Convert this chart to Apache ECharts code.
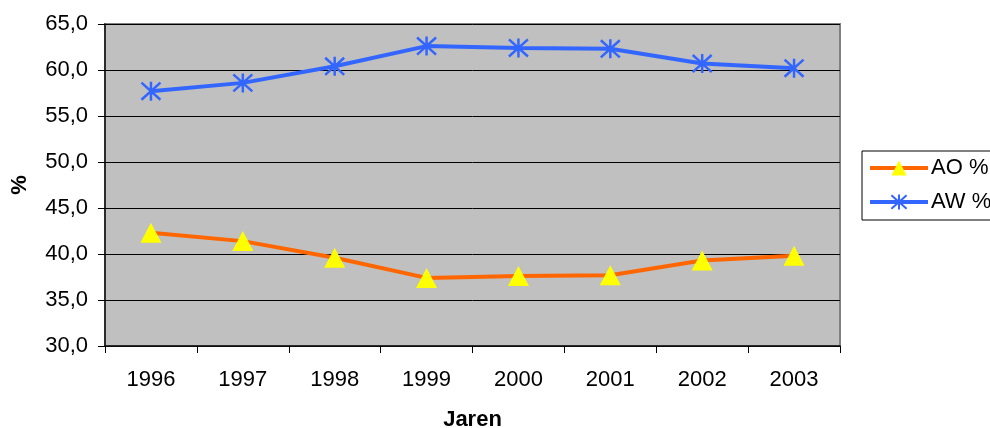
<!DOCTYPE html>
<html>
<head>
<meta charset="utf-8">
<script src="https://cdn.jsdelivr.net/npm/echarts@6/dist/echarts.min.js"></script>
<style>
  html, body { margin: 0; padding: 0; background: #ffffff; }
  #chart { width: 990px; height: 428px; }
</style>
</head>
<body>
<div id="chart"></div>
<script>
// Share of AO and AW per year (%)
const years = ['1996', '1997', '1998', '1999', '2000', '2001', '2002', '2003'];
const aoPct = [42.3, 41.4, 39.6, 37.4, 37.6, 37.7, 39.3, 39.8];
const awPct = [57.7, 58.6, 60.4, 62.6, 62.4, 62.3, 60.7, 60.2];
const yTicks = { min: 30, max: 65, interval: 5 };

// asterisk marker: vertical stroke plus two diagonals
const starPath = 'path://M10 0 L10 20 M1 1 L19 19 M19 1 L1 19';

const FONT = 'Liberation Sans, Arial, sans-serif';
const chart = echarts.init(document.getElementById('chart'), null, { renderer: 'canvas' });

chart.setOption({
  animation: false,
  backgroundColor: '#ffffff',
  textStyle: { fontFamily: FONT, color: '#000' },
  grid: {
    left: 105, right: 150, top: 24, bottom: 82,
    containLabel: false,
    outerBoundsMode: 'none',
    show: true,
    backgroundColor: '#C0C0C0',
    borderColor: '#808080',
    borderWidth: 2
  },
  legend: {
    orient: 'vertical',
    left: 862, top: 151,
    padding: [6, 40, 7, 6],
    itemWidth: 58, itemHeight: 19, itemGap: 12,
    borderColor: '#000', borderWidth: 1,
    backgroundColor: '#fff',
    lineStyle: { width: 4 },
    textStyle: { fontFamily: FONT, fontSize: 22, color: '#000', padding: [0, 0, 0, -2] },
    data: ['AO %', 'AW %']
  },
  xAxis: {
    type: 'category',
    data: years,
    boundaryGap: true,
    name: 'Jaren',
    nameLocation: 'middle',
    nameGap: 63,
    nameTextStyle: { fontFamily: FONT, fontSize: 22, fontWeight: 'bold', color: '#000' },
    axisLine: { lineStyle: { color: '#111', width: 1.5 } },
    axisTick: { show: true, interval: 0, length: 7, lineStyle: { color: '#000' } },
    axisLabel: { fontFamily: FONT, fontSize: 22, color: '#000', margin: 23, interval: 0 },
    splitLine: { show: false }
  },
  yAxis: {
    type: 'value',
    min: yTicks.min, max: yTicks.max, interval: yTicks.interval,
    name: '%',
    nameLocation: 'middle',
    nameRotate: 90,
    nameGap: 74,
    nameTextStyle: { fontFamily: FONT, fontSize: 22, fontWeight: 'bold', color: '#000' },
    axisLine: { show: true, lineStyle: { color: '#111', width: 1.5 } },
    axisTick: { show: true, length: 7, lineStyle: { color: '#000' } },
    axisLabel: {
      fontFamily: FONT, fontSize: 22, color: '#000', margin: 17,
      formatter: v => v.toFixed(1).replace('.', ',')
    },
    splitLine: { show: true, lineStyle: { color: '#000', width: 1 } }
  },
  series: [
    {
      name: 'AO %',
      type: 'line',
      data: aoPct,
      symbol: 'triangle',
      symbolSize: [21, 20],
      lineStyle: { color: '#FF6600', width: 4 },
      itemStyle: { color: '#FFFF00', borderWidth: 0 },
      z: 3
    },
    {
      name: 'AW %',
      type: 'line',
      data: awPct,
      symbol: starPath,
      symbolSize: 19,
      lineStyle: { color: '#3366FF', width: 4 },
      itemStyle: { color: 'rgba(0,0,0,0)', borderColor: '#3366FF', borderWidth: 2.5 },
      z: 3
    }
  ]
});
</script>
</body>
</html>
